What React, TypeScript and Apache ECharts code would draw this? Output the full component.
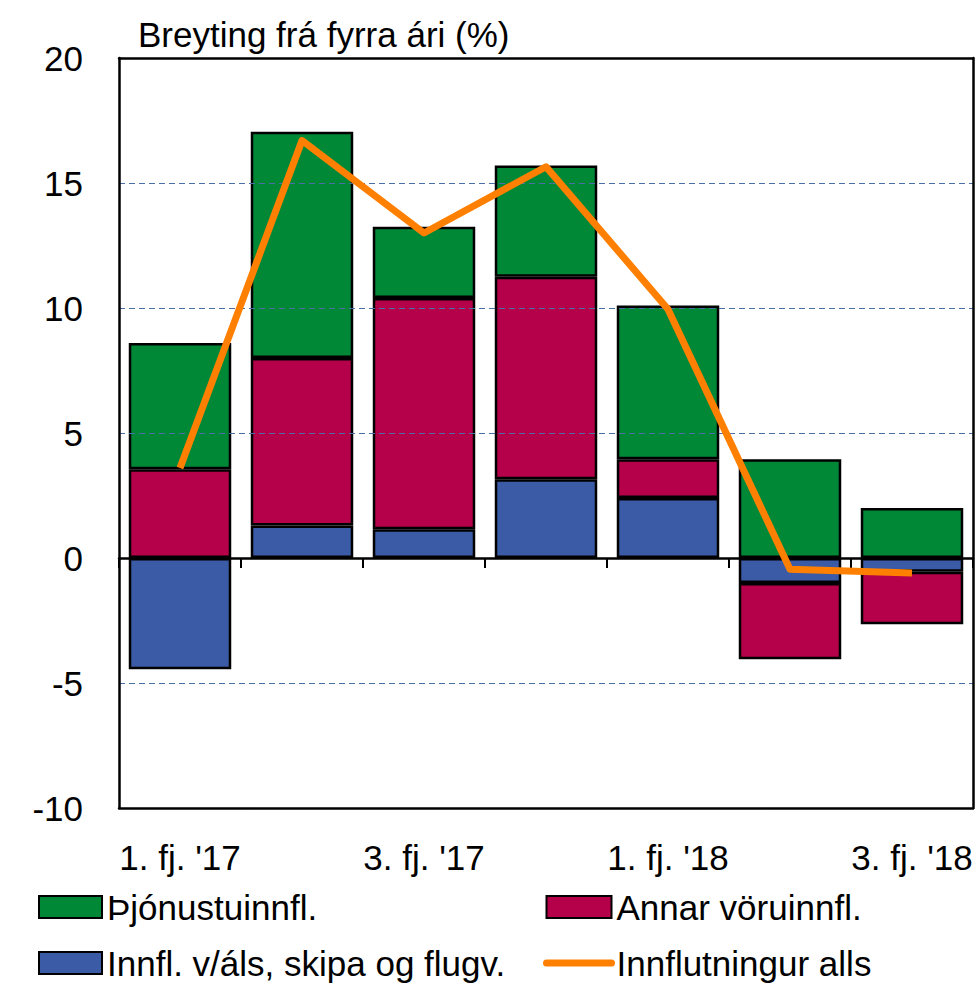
import React, { useEffect, useRef } from "react";
import * as echarts from "echarts";

const categories = ["1. fj. '17", "2. fj. '17", "3. fj. '17", "4. fj. '17", "1. fj. '18", "2. fj. '18", "3. fj. '18"];
const alsSkipaFlug = [-4.45, 1.3, 1.15, 3.15, 2.4, -1.0, -0.55];
const annarVoru = [3.55, 6.7, 9.25, 8.1, 1.55, -3.05, -2.1];
const thjonusta = [5.05, 9.05, 2.85, 4.45, 6.15, 3.95, 2.0];
const heild = [3.6, 16.7, 13.0, 15.65, 9.95, -0.45, -0.6];

const FONT = "'Liberation Sans', Arial, sans-serif";
const FS = 35;

export default function App() {
  const ref = useRef<HTMLDivElement>(null);
  useEffect(() => {
    if (!ref.current) return;
    const chart = echarts.init(ref.current, undefined, { renderer: "svg" });
    const barBorder = { borderColor: "#000", borderWidth: 2.5 };
    const borderLine = { show: true, onZero: false, lineStyle: { color: "#000", width: 2.5 } };
    const legendText = { fontFamily: FONT, fontSize: FS, color: "#000", lineHeight: 40, padding: [0, 0, 0, 0] };
    chart.setOption({
      animation: false,
      textStyle: { fontFamily: FONT, color: "#000" },
      title: {
        text: "Breyting frá fyrra ári (%)",
        left: 138,
        top: 17,
        padding: 0,
        textStyle: { fontFamily: FONT, fontSize: FS, fontWeight: "normal", color: "#000" },
      },
      grid: {
        left: 119,
        right: 7,
        top: 58,
        bottom: 177,
        show: false,
        containLabel: false,
      },
      legend: [
        {
          orient: "vertical",
          left: 38,
          top: 887,
          width: 480,
          height: 300,
          padding: 0,
          itemWidth: 63,
          itemHeight: 22,
          itemGap: 16,
          selectedMode: false,
          icon: "rect",
          textStyle: legendText,
          data: ["Þjónustuinnfl.", "Innfl. v/áls, skipa og flugv."],
        },
        {
          orient: "vertical",
          left: 543,
          top: 887,
          width: 400,
          height: 300,
          padding: 0,
          itemWidth: 65,
          itemHeight: 22,
          itemGap: 16,
          selectedMode: false,
          textStyle: legendText,
          data: [
            { name: "Annar vöruinnfl.", icon: "rect" },
            { name: "Innflutningur alls", itemStyle: { opacity: 0 }, lineStyle: { width: 7, cap: "round" } },
          ],
        },
      ],
      xAxis: [
        {
          type: "category",
          data: categories,
          position: "bottom",
          z: 3,
          axisLine: { show: true, onZero: true, lineStyle: { color: "#000", width: 2.5 } },
          axisTick: { show: true, inside: false, length: 10, interval: 0, lineStyle: { color: "#000", width: 2 } },
          axisLabel: { show: false },
          splitLine: { show: false },
        },
        {
          type: "category",
          data: categories,
          position: "bottom",
          z: 3,
          axisLine: borderLine,
          axisTick: { show: false },
          axisLabel: { show: true, interval: 1, margin: 32, fontFamily: FONT, fontSize: FS, color: "#000" },
          splitLine: { show: false },
        },
        {
          type: "category",
          data: categories,
          position: "top",
          z: 3,
          axisLine: borderLine,
          axisTick: { show: false },
          axisLabel: { show: false },
          splitLine: { show: false },
        },
      ],
      yAxis: [
        {
          type: "value",
          min: -10,
          max: 20,
          interval: 5,
          position: "left",
          z: 3,
          axisLine: borderLine,
          axisTick: { show: false },
          axisLabel: { margin: 36, fontFamily: FONT, fontSize: FS, color: "#000" },
          splitLine: { show: true, lineStyle: { color: "#4a6fa8", type: [6, 4], width: 1.2 } },
        },
        {
          type: "value",
          min: -10,
          max: 20,
          interval: 5,
          position: "right",
          z: 3,
          axisLine: borderLine,
          axisTick: { show: false },
          axisLabel: { show: false },
          splitLine: { show: false },
        },
      ],
      series: [
        {
          name: "Innfl. v/áls, skipa og flugv.",
          type: "bar",
          stack: "a",
          data: alsSkipaFlug,
          barCategoryGap: "16%",
          itemStyle: { color: "#3B5BA7", ...barBorder },
        },
        {
          name: "Annar vöruinnfl.",
          type: "bar",
          stack: "a",
          data: annarVoru,
          barCategoryGap: "16%",
          itemStyle: { color: "#B5004A", ...barBorder },
        },
        {
          name: "Þjónustuinnfl.",
          type: "bar",
          stack: "a",
          data: thjonusta,
          barCategoryGap: "16%",
          itemStyle: { color: "#008837", ...barBorder },
        },
        {
          name: "Innflutningur alls",
          type: "line",
          data: heild,
          symbol: "none",
          z: 5,
          lineStyle: { color: "#FF8000", width: 7, join: "round" },
          itemStyle: { color: "#FF8000" },
        },
      ],
    });
    return () => chart.dispose();
  }, []);
  return <div ref={ref} style={{ position: "absolute", left: 0, top: 0, width: 980, height: 985 }} />;
}
